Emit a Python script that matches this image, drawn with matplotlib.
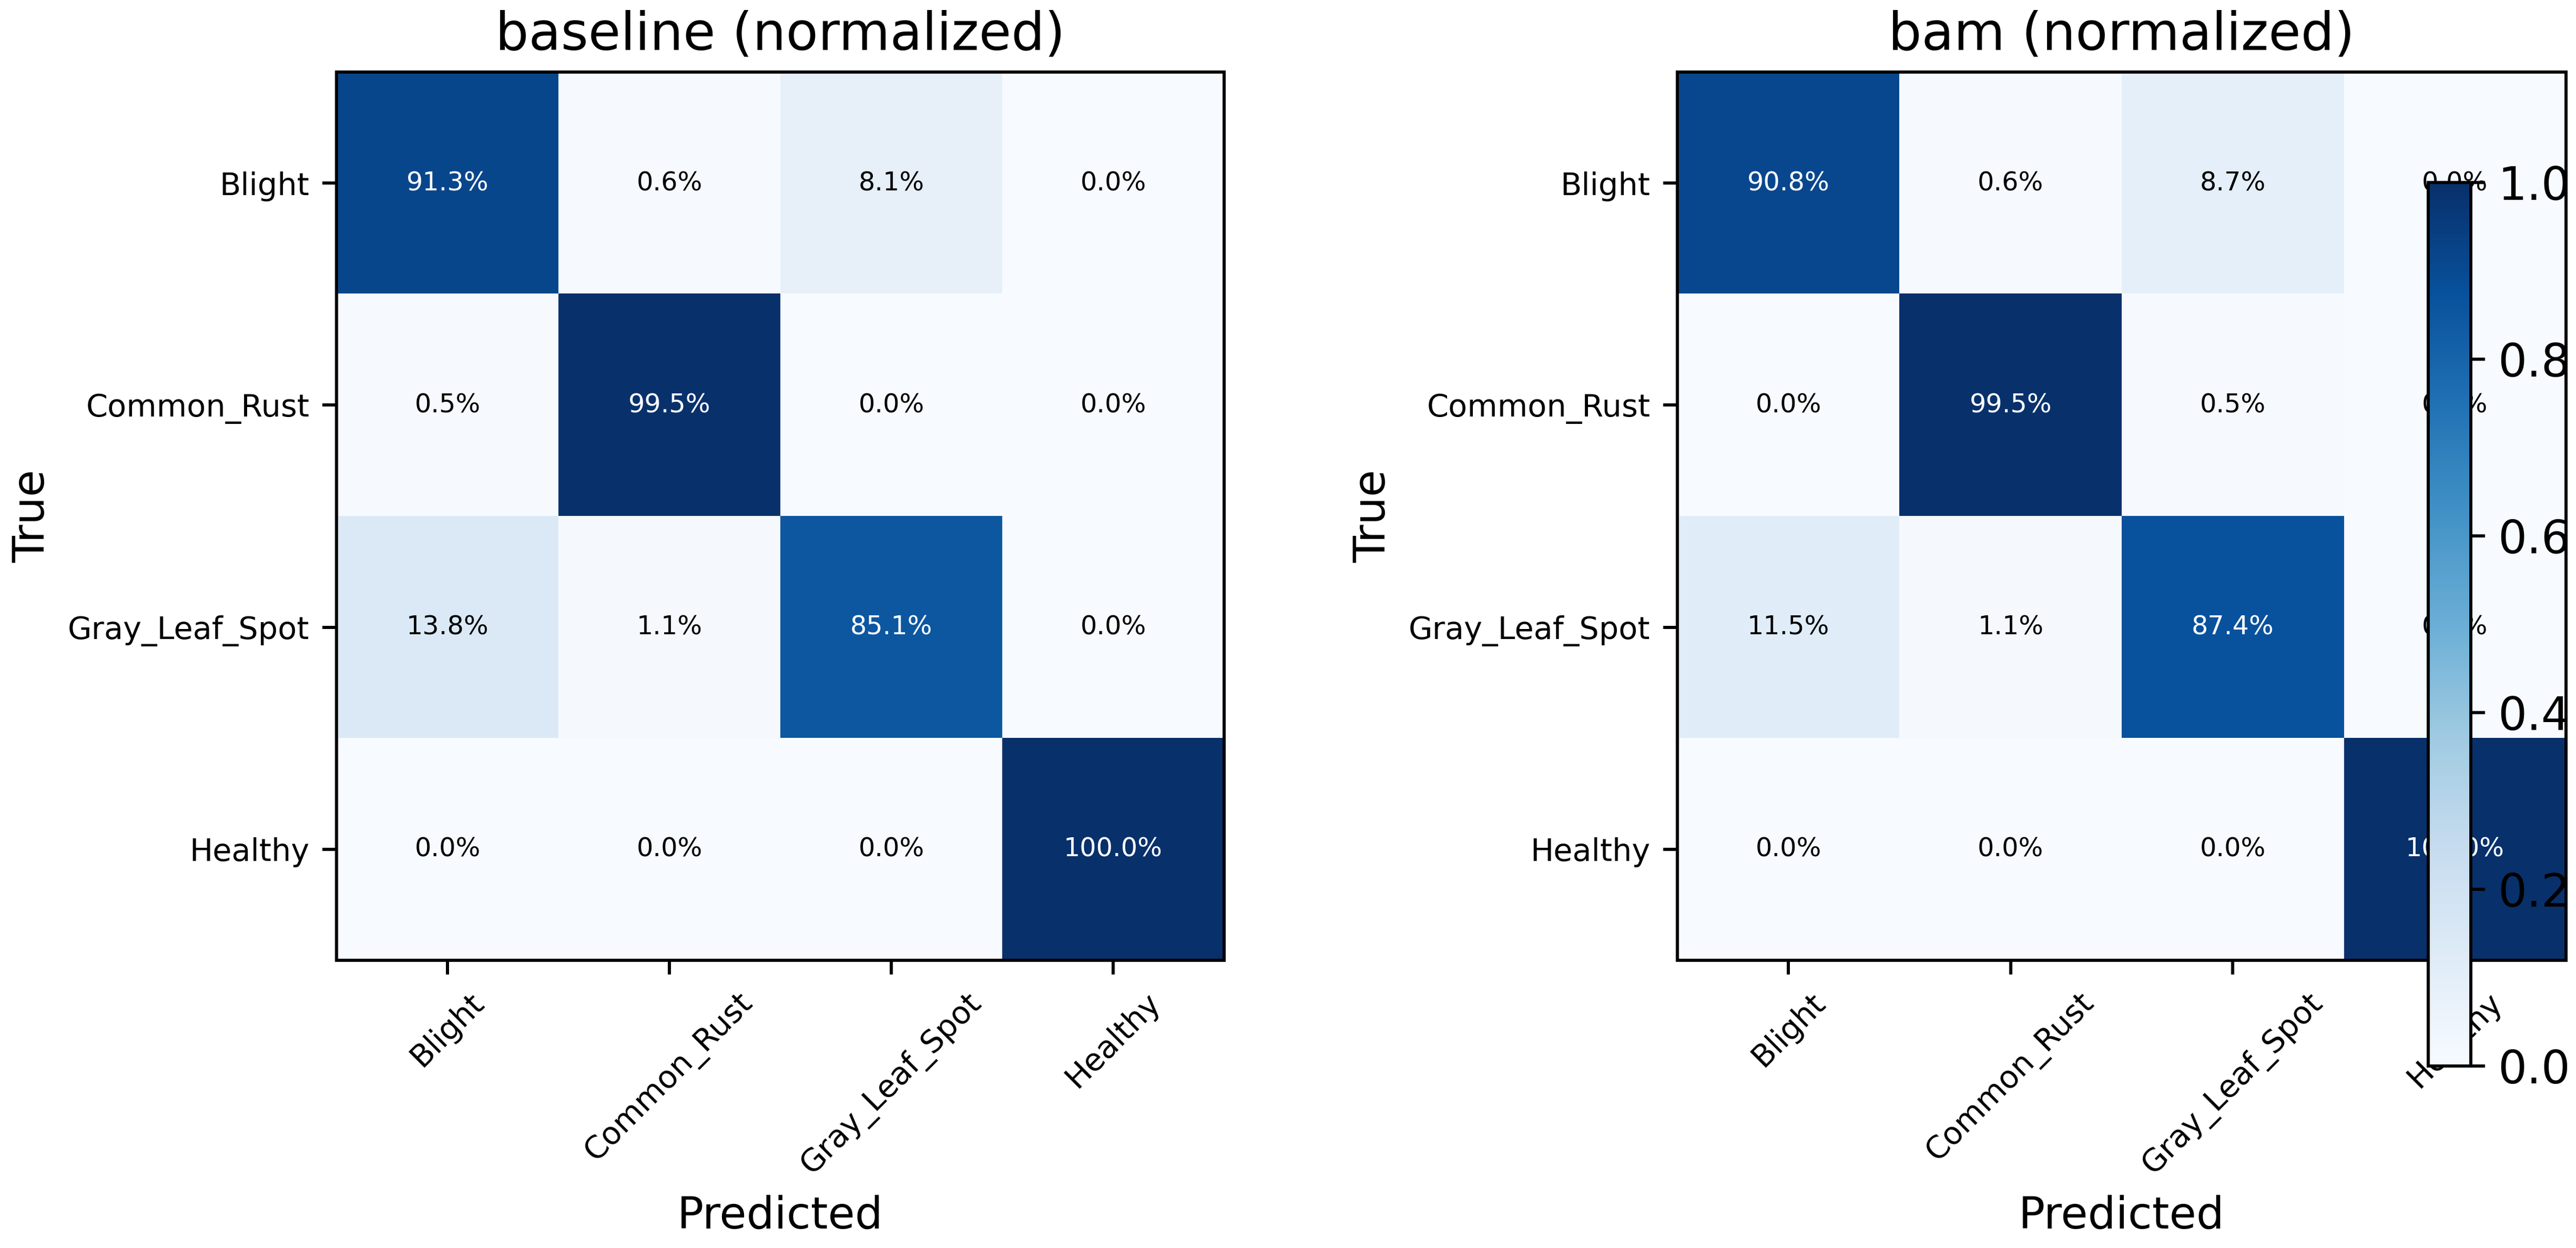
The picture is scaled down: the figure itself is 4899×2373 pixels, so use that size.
import numpy as np
import matplotlib
matplotlib.use("Agg")
import matplotlib.pyplot as plt
from matplotlib.transforms import Bbox, TransformedBbox

# class names and normalized confusion matrices (rows = true, cols = predicted)
classes = ["Blight", "Common_Rust", "Gray_Leaf_Spot", "Healthy"]

baseline_cm = np.array([
    [0.913, 0.006, 0.081, 0.000],
    [0.005, 0.995, 0.000, 0.000],
    [0.138, 0.011, 0.851, 0.000],
    [0.000, 0.000, 0.000, 1.000],
])

bam_cm = np.array([
    [0.908, 0.006, 0.087, 0.000],
    [0.000, 0.995, 0.005, 0.000],
    [0.115, 0.011, 0.874, 0.000],
    [0.000, 0.000, 0.000, 1.000],
])

titles = ["baseline (normalized)", "bam (normalized)"]

plt.rcParams["axes.linewidth"] = 0.86
plt.rcParams["xtick.major.width"] = 0.86
plt.rcParams["ytick.major.width"] = 0.86
plt.rcParams["xtick.major.size"] = 3.9
plt.rcParams["ytick.major.size"] = 3.9

W, H = 4899, 2373
fig = plt.figure(figsize=(W / 500, H / 500), dpi=500)

positions = [
    [640 / W, 1 - 1826 / H, 1688 / W, 1689 / H],
    [3190 / W, 1 - 1826 / H, 1690 / W, 1689 / H],
]

im = None
for pos, cm, title in zip(positions, [baseline_cm, bam_cm], titles):
    ax = fig.add_axes(pos)
    im = ax.imshow(cm, cmap="Blues", vmin=0, vmax=1, aspect="auto",
                   interpolation="nearest")
    ax.set_title(title, fontsize=14.4)
    ax.set_xticks(range(len(classes)))
    ax.set_yticks(range(len(classes)))
    ax.set_xticklabels(classes, rotation=45, fontsize=8.5)
    ax.set_yticklabels(classes, fontsize=8.5)
    ax.set_xlabel("Predicted", fontsize=12)
    ax.set_ylabel("True", fontsize=12)
    for i in range(cm.shape[0]):
        for j in range(cm.shape[1]):
            val = cm[i, j]
            ax.text(j, i, f"{val * 100:.1f}%", ha="center", va="center",
                    fontsize=7.1, color="white" if val > 0.5 else "black")

# colorbar sits on top of the right matrix
cax = fig.add_axes([4618 / W, 1 - 2027 / H, 81 / W, 1680 / H])
cbar = fig.colorbar(im, cax=cax)
cbar.set_ticks([0.0, 0.2, 0.4, 0.6, 0.8, 1.0])
cbar.ax.tick_params(labelsize=12.5)

# labels are cut off at the right edge of the second matrix
fig.canvas.draw()
clip = TransformedBbox(Bbox([[0, 0], [4883 / W, 1]]), fig.transFigure)
for lbl in cbar.ax.get_yticklabels():
    lbl.set_clip_box(clip)
    lbl.set_clip_on(True)

fig.savefig("out.png", dpi=500)
